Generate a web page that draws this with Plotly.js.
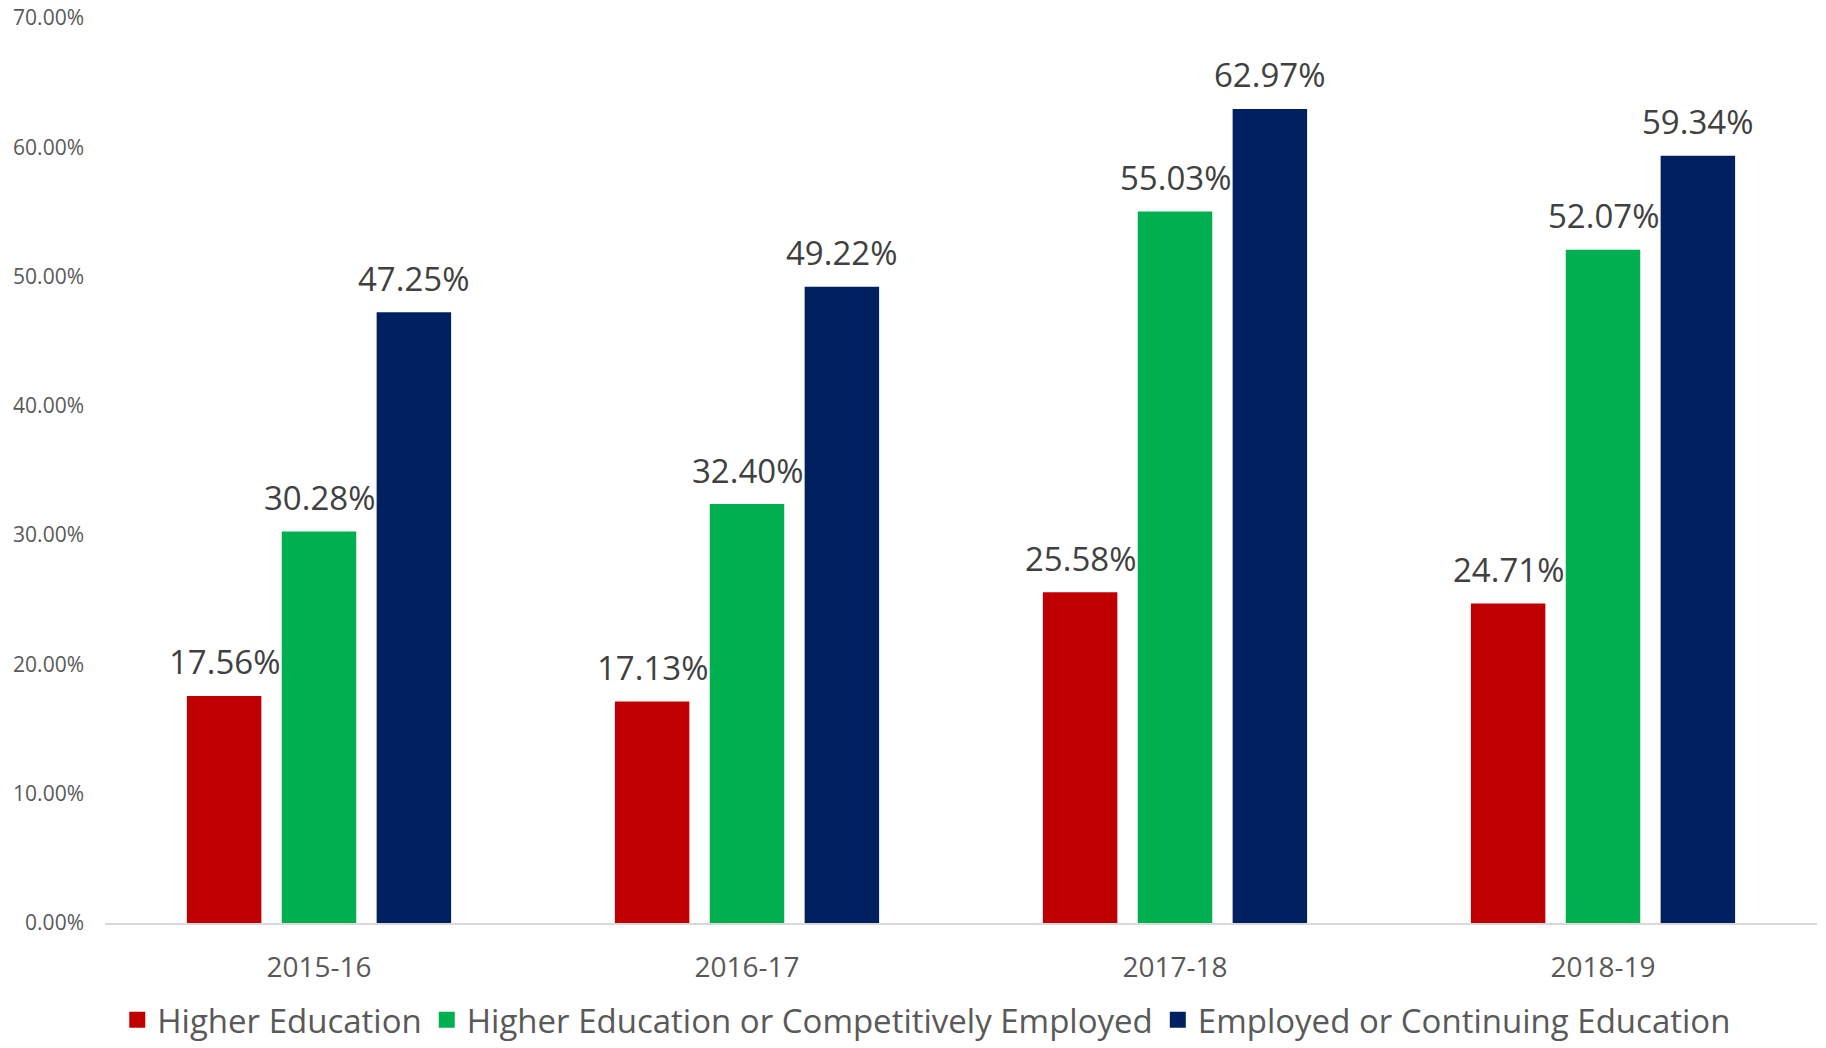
<!DOCTYPE html>
<html><head><meta charset="utf-8">
<script src="https://cdn.plot.ly/plotly-3.0.1.min.js"></script>
<style>html,body{margin:0;padding:0;background:#fff}#chart{width:1826px;height:1048px}</style>
</head><body><div id="chart"></div>
<script>
const years = ["2015-16", "2016-17", "2017-18", "2018-19"];
const seriesNames = ["Higher Education", "Higher Education or Competitively Employed", "Employed or Continuing Education"];
const higherEd = [0.1756, 0.1713, 0.2558, 0.2471];
const higherEdOrEmployed = [0.3028, 0.3240, 0.5503, 0.5207];
const employedOrContinuing = [0.4725, 0.4922, 0.6297, 0.5934];
const colors = ["#C00000", "#00B050", "#002060"];
const yTicks = [0, 0.1, 0.2, 0.3, 0.4, 0.5, 0.6, 0.7];

const font = "'Open Sans', 'Noto Sans', sans-serif";
const W = 1826, H = 1048;
const margin = {l: 105, r: 9, t: 18, b: 125};
const bargap = 0.335, bargroupgap = 0.215;
const values = [higherEd, higherEdOrEmployed, employedOrContinuing];

const traces = values.map((v, i) => ({
  type: "bar",
  name: seriesNames[i],
  x: years,
  y: v,
  marker: {color: colors[i]},
  showlegend: false,
  hoverinfo: "x+y"
}));

// legend entries with larger square swatches
values.forEach((v, i) => {
  traces.push({
    type: "scatter", mode: "markers",
    name: seriesNames[i],
    x: [null], y: [null],
    marker: {symbol: "square", size: 18, color: colors[i]},
    showlegend: true, hoverinfo: "skip"
  });
});

// data labels placed over each bar via the axes
const catWidth = (W - margin.l - margin.r) / years.length;
const slot = catWidth * (1 - bargap) / values.length;
const annotations = [];
values.forEach((v, i) => {
  v.forEach((val, j) => {
    annotations.push({
      x: years[j], y: val, xref: "x", yref: "y",
      text: (val * 100).toFixed(2) + "%",
      showarrow: false,
      xshift: (i - (values.length - 1) / 2) * slot,
      yanchor: "middle", yshift: 34,
      font: {family: font, size: 33, color: "#404040"}
    });
  });
});

const layout = {
  width: W, height: H,
  margin: margin,
  paper_bgcolor: "#fff", plot_bgcolor: "#fff",
  barmode: "group",
  bargap: bargap,
  bargroupgap: bargroupgap,
  font: {family: font, color: "#595959"},
  xaxis: {
    type: "category",
    range: [-0.5, 3.5],
    automargin: false,
    showline: true, linecolor: "#D9D9D9", linewidth: 2,
    showgrid: false, ticks: "",
    tickfont: {family: font, size: 28, color: "#595959"},
    ticklabelstandoff: 18
  },
  yaxis: {
    range: [0, 0.7],
    automargin: false,
    tickvals: yTicks,
    tickformat: ".2%",
    showgrid: false, zeroline: false, showline: false, ticks: "",
    tickfont: {family: font, size: 21, color: "#595959"},
    ticklabelstandoff: 20
  },
  annotations: annotations,
  showlegend: true,
  legend: {
    orientation: "h",
    x: 0.48, xanchor: "center",
    yref: "container",
    y: 0.027, yanchor: "middle",
    font: {family: font, size: 33, color: "#595959"},
    itemsizing: "trace",
    traceorder: "normal"
  }
};

Plotly.newPlot("chart", traces, layout, {displayModeBar: false});
</script>
</body></html>
